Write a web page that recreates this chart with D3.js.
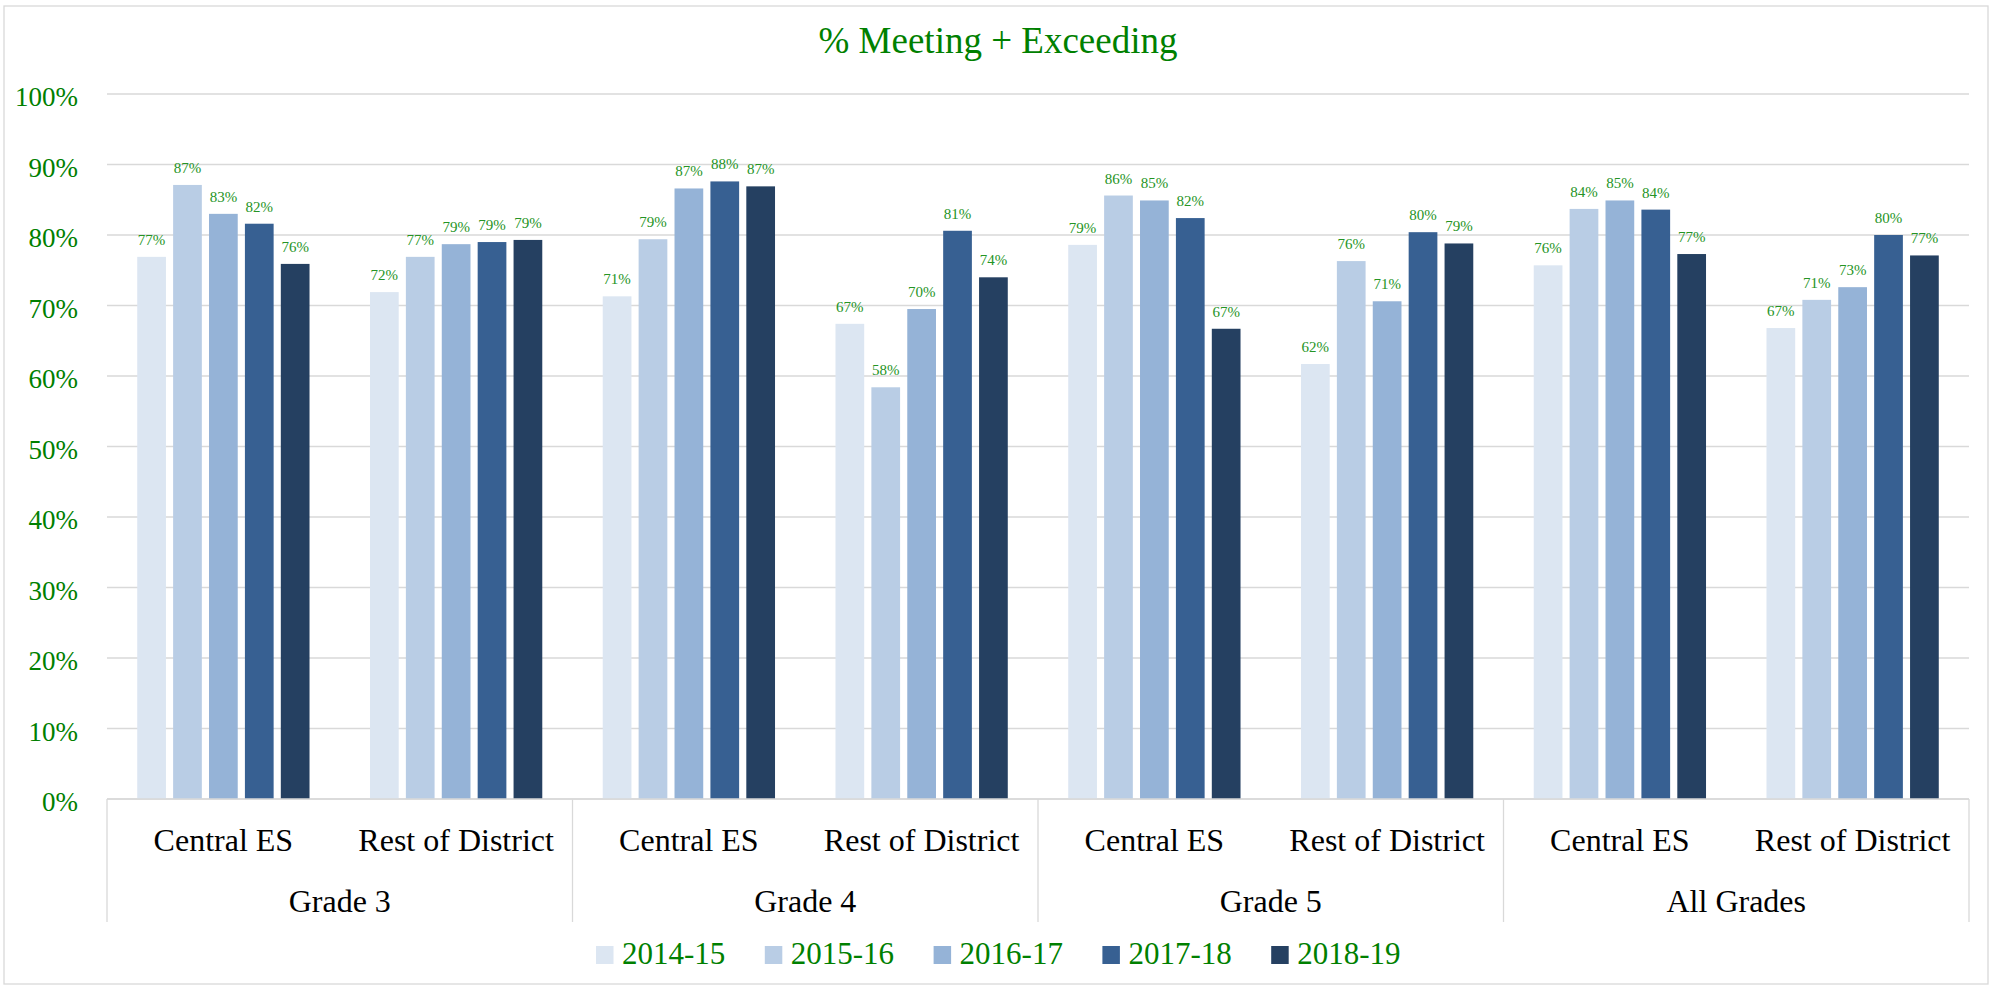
<!DOCTYPE html>
<head>
    <title>% Meeting + Exceeding</title>
    <meta charset="utf-8">
    <script src="https://d3js.org/d3.v7.min.js"></script>
    <style>
        body {
            margin: 0;
            background-color: white;
            font-family: 'Liberation Serif', 'Times New Roman', serif;
        }
    </style>
</head>

<body>
<script>
//DATA
var grades  = ['Grade 3', 'Grade 4', 'Grade 5', 'All Grades'];
var schools = ['Central ES', 'Rest of District'];
var years   = ['2014-15', '2015-16', '2016-17', '2017-18', '2018-19'];
var yTicks  = [0, 0.1, 0.2, 0.3, 0.4, 0.5, 0.6, 0.7, 0.8, 0.9, 1];

// one array per year, order: G3 CES, G3 RoD, G4 CES, G4 RoD, G5 CES, G5 RoD, All CES, All RoD
var y1415 = [0.769, 0.719, 0.713, 0.674, 0.786, 0.617, 0.757, 0.668];
var y1516 = [0.871, 0.769, 0.794, 0.584, 0.856, 0.763, 0.837, 0.708];
var y1617 = [0.830, 0.787, 0.866, 0.695, 0.849, 0.706, 0.849, 0.726];
var y1718 = [0.816, 0.790, 0.876, 0.806, 0.824, 0.804, 0.836, 0.800];
var y1819 = [0.759, 0.793, 0.869, 0.740, 0.667, 0.788, 0.773, 0.771];
var series = [y1415, y1516, y1617, y1718, y1819];

var colors = ['#dce6f2', '#b9cde5', '#95b3d7', '#376092', '#254061'];
var green = '#008000';

var cats = [];
grades.forEach(g => schools.forEach(s => cats.push(g + '|' + s)));

var data = [];
series.forEach((vals, j) => vals.forEach((v, i) => data.push({cat: cats[i], year: years[j], v: v})));

//SCALES
var W = 1997, H = 987;
var plotL = 107, plotR = 1969, plotT = 94, base = 799;

var x0 = d3.scaleBand().domain(cats).range([plotL, plotR]);
var xg = d3.scaleBand().domain(grades).range([plotL, plotR]);
var span = 172.3;
var x1 = d3.scaleBand().domain(years).range([0, span]).paddingInner(0.2);
var y = d3.scaleLinear().domain([0, 1]).range([base, plotT]);
var col = d3.scaleOrdinal().domain(years).range(colors);

//WINDOW
var svg = d3.select('body')
    .append('svg')
    .attr('width', W)
    .attr('height', H)

svg.append('rect')
    .attr('x', 4).attr('y', 6)
    .attr('width', 1984).attr('height', 978)
    .attr('fill', 'white')
    .attr('stroke', '#d9d9d9')
    .attr('stroke-width', 1.3)

//TITLE
svg.append('text')
    .attr('x', 998).attr('y', 53)
    .attr('text-anchor', 'middle')
    .style('font-size', '37px')
    .style('fill', green)
    .text('% Meeting + Exceeding')

//GRID
svg.append('g').selectAll('line')
    .data(yTicks).enter()
    .append('line')
    .attr('x1', plotL).attr('x2', plotR)
    .attr('y1', d => y(d)).attr('y2', d => y(d))
    .attr('stroke', '#d9d9d9')
    .attr('stroke-width', 1.3)

svg.append('g').selectAll('text')
    .data(yTicks).enter()
    .append('text')
    .attr('x', 78)
    .attr('y', d => y(d) + 3)
    .attr('dy', '0.35em')
    .attr('text-anchor', 'end')
    .style('font-size', '27px')
    .style('fill', green)
    .text(d3.format('.0%'))

//BARS
var bars = svg.append('g');
bars.selectAll('rect')
    .data(data).enter()
    .append('rect')
    .attr('x', d => x0(d.cat) + (x0.bandwidth() - span) / 2 + x1(d.year))
    .attr('y', d => y(d.v))
    .attr('width', x1.bandwidth())
    .attr('height', d => base - y(d.v))
    .attr('fill', d => col(d.year))

bars.selectAll('text')
    .data(data).enter()
    .append('text')
    .attr('x', d => x0(d.cat) + (x0.bandwidth() - span) / 2 + x1(d.year) + x1.bandwidth() / 2)
    .attr('y', d => y(d.v) - 12)
    .attr('text-anchor', 'middle')
    .style('font-size', '15px')
    .style('fill', '#259425')
    .text(d => d3.format('.0%')(d.v))

//CATEGORY AXIS
var ax = svg.append('g');
ax.append('line')
    .attr('x1', plotL).attr('x2', plotR)
    .attr('y1', base).attr('y2', base)
    .attr('stroke', '#d9d9d9').attr('stroke-width', 1.3)

ax.selectAll('.sep')
    .data(grades.map(g => xg(g)).concat([plotR])).enter()
    .append('line')
    .attr('class', 'sep')
    .attr('x1', d => d).attr('x2', d => d)
    .attr('y1', base).attr('y2', 922)
    .attr('stroke', '#d9d9d9').attr('stroke-width', 1.3)

ax.selectAll('.sub')
    .data(cats).enter()
    .append('text')
    .attr('class', 'sub')
    .attr('x', d => x0(d) + x0.bandwidth() / 2)
    .attr('y', 851)
    .attr('text-anchor', 'middle')
    .style('font-size', '32px')
    .style('fill', 'black')
    .text(d => d.split('|')[1])

ax.selectAll('.grp')
    .data(grades).enter()
    .append('text')
    .attr('class', 'grp')
    .attr('x', d => xg(d) + xg.bandwidth() / 2)
    .attr('y', 912)
    .attr('text-anchor', 'middle')
    .style('font-size', '32px')
    .style('fill', 'black')
    .text(d => d)

//LEGEND
var lx = d3.scaleBand().domain(years).range([596, 596 + 5 * 168.8]);
var leg = svg.append('g').selectAll('g')
    .data(years).enter()
    .append('g')
    .attr('transform', d => 'translate(' + lx(d) + ',0)')

leg.append('rect')
    .attr('x', 0).attr('y', 946)
    .attr('width', 17.5).attr('height', 18)
    .attr('fill', d => col(d))

leg.append('text')
    .attr('x', 26).attr('y', 964)
    .style('font-size', '31px')
    .style('fill', green)
    .text(d => d)
</script>
</body>
